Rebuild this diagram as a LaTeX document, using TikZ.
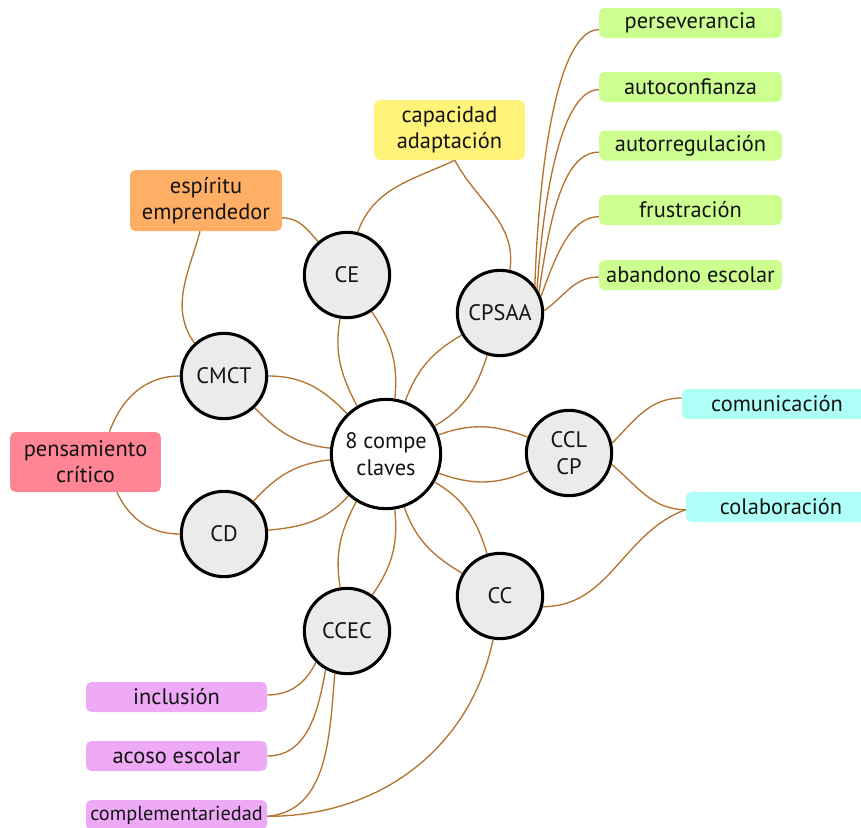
\documentclass[tikz,border=0pt]{standalone}
\usepackage{fontspec}
\setmainfont{PT Sans}
\definecolor{conc}{HTML}{B5732F}
\definecolor{circfill}{HTML}{EBEBEB}
\definecolor{txt}{HTML}{141414}
\definecolor{gbox}{HTML}{CCFF8F}
\definecolor{ybox}{HTML}{FFF37A}
\definecolor{obox}{HTML}{FFAE66}
\definecolor{rbox}{HTML}{FF8595}
\definecolor{cbox}{HTML}{ADFFF7}
\definecolor{vbox}{HTML}{EEAAF7}
\begin{document}
\begin{tikzpicture}[x=0.75pt,y=-0.75pt,
  con/.style={draw=conc, line width=1pt},
  comp/.style={circle, draw=black, line width=2.3pt, fill=circfill, minimum size=64pt, inner sep=0pt, font=\fontsize{16.8}{20}\selectfont, text=txt, align=center},
  hub/.style={comp, fill=white, minimum size=82pt},
  box/.style={rectangle, rounded corners=4pt, inner sep=0pt, font=\fontsize{16.8}{19.5}\selectfont, text=txt, align=center},
  gb/.style={box, fill=gbox, minimum width=137pt, minimum height=22.5pt},
  tb/.style={box, minimum width=113pt, minimum height=45pt},
  vb/.style={box, fill=vbox, minimum width=135.75pt, minimum height=22.5pt},
  cb/.style={box, fill=cbox, minimum width=142.5pt, minimum height=22.5pt},
]
\useasboundingbox (0,0) rectangle (861,828);

% circles
\node[hub] (c) at (386,454) {8 compe\\claves};
\node[comp] (ce) at (347,275) {CE};
\node[comp] (cpsaa) at (500,313) {CPSAA};
\node[comp] (ccl) at (569,453) {CCL\\CP};
\node[comp] (cc) at (500,596) {CC};
\node[comp] (ccec) at (347,631) {CCEC};
\node[comp] (cd) at (224,534) {CD};
\node[comp] (cmct) at (224,376) {CMCT};

% boxes
\node[gb] (p1) at (690.5,23) {perseverancia};
\node[gb] (p2) at (690.5,87) {autoconfianza};
\node[gb] (p3) at (690.5,145.5) {autorregulación};
\node[gb] (p4) at (690.5,210) {frustración};
\node[gb] (p5) at (690.5,275) {abandono escolar};
\node[tb, fill=ybox] (cap) at (449.5,130) {capacidad\\adaptación};
\node[tb, fill=obox, minimum width=114pt, minimum height=45.75pt] (esp) at (206,200.5) {espíritu\\emprendedor};
\node[tb, fill=rbox] (pens) at (85.5,462) {pensamiento\\crítico};
\node[cb] (comm) at (777,404) {comunicación};
\node[cb] (colab) at (781,507) {colaboración};
\node[vb] (incl) at (176.5,697) {inclusión};
\node[vb] (acoso) at (176.5,756) {acoso escolar};
\node[vb, font=\fontsize{15.2}{18}\selectfont] (compl) at (176.5,815) {complementariedad};

% petals from the hub
\draw[con] (c.121) to[out=118,in=-100] (ce.-99);
\draw[con] (c.81) to[out=84,in=-56] (ce.-56);
\draw[con] (c.70) to[out=70,in=-150] (cpsaa.-150);
\draw[con] (c.30) to[out=30,in=-107] (cpsaa.-107);
\draw[con] (c.20) to[out=20,in=159] (ccl.159);
\draw[con] (c.-20) to[out=-20,in=-156] (ccl.-156);
\draw[con] (c.-30) to[out=-30,in=107] (cc.107);
\draw[con] (c.-71) to[out=-71,in=149] (cc.149);
\draw[con] (c.-81) to[out=-84,in=55] (ccec.55);
\draw[con] (c.-122) to[out=-118,in=99] (ccec.99);
\draw[con] (c.-132) to[out=-132,in=5] (cd.5);
\draw[con] (c.-174) to[out=-174,in=48] (cd.48);
\draw[con] (c.174) to[out=174,in=-46] (cmct.-46);
\draw[con] (c.134) to[out=134,in=0] (cmct.0);

% capacidad
\draw[con] ([xshift=4pt]cap.south) to[out=-155,in=70] (ce.76);
\draw[con] ([xshift=4pt]cap.south) to[out=-62,in=82] (cpsaa.77);
% espiritu
\draw[con] ([yshift=-13pt]esp.east) to[out=0,in=131] (ce.131);
\draw[con] ([xshift=-4.5pt]esp.south) to[out=-105,in=125] (cmct.132);
% pensamiento
\draw[con] ([xshift=18pt]pens.north) to[out=70,in=180] (cmct.180);
\draw[con] ([xshift=23.6pt]pens.south) to[out=-65,in=180] (cd.180);
% CPSAA to green
\draw[con] (cpsaa.38) to[out=88,in=180,out distance=103pt,in distance=29pt] ([yshift=-5pt]p1.west);
\draw[con] (cpsaa.33) to[out=86,in=180,out distance=82pt,in distance=26pt] ([yshift=-2pt]p2.west);
\draw[con] (cpsaa.28) to[out=82,in=180,out distance=60pt,in distance=26pt] ([yshift=-5pt]p3.west);
\draw[con] (cpsaa.22) to[out=70,in=180,out distance=30pt,in distance=22pt] ([yshift=-5pt]p4.west);
\draw[con] (cpsaa.3) to[out=35,in=180] ([yshift=-1.5pt]p5.west);
% CCL
\draw[con] (ccl.13) to[out=45,in=180] ([yshift=4.5pt]comm.west);
\draw[con] (ccl.-15) to[out=-40,in=180] ([yshift=-2pt]colab.west);
% CC
\draw[con] (cc.-14) to[out=0,in=200] ([yshift=-2pt]colab.west);
\draw[con] (cc.-99) to[out=-102,in=0] ([yshift=-1pt]compl.east);
% CCEC
\draw[con] (ccec.-135) to[out=-115,in=0] ([yshift=1.5pt]incl.east);
\draw[con] (ccec.-119) to[out=-100,in=0] (acoso.east);
\draw[con] (ccec.-106) to[out=-95,in=5] ([yshift=-1pt]compl.east);
\end{tikzpicture}
\end{document}
